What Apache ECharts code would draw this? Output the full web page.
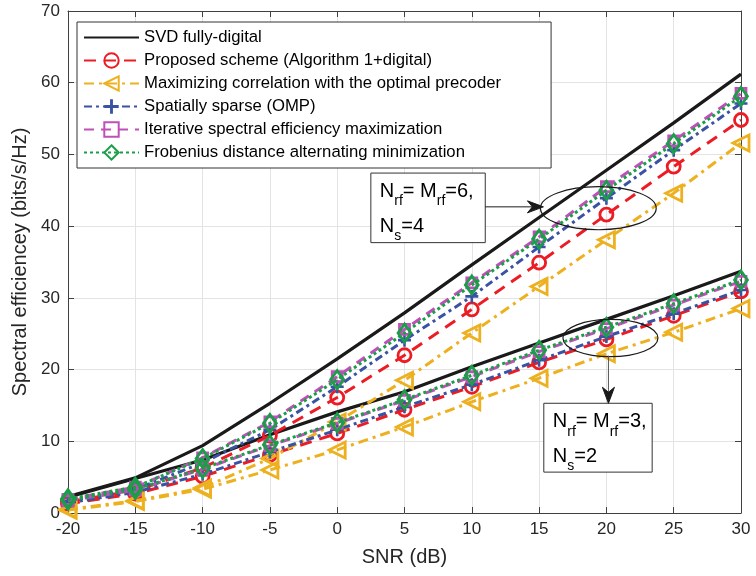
<!DOCTYPE html>
<html><head><meta charset="utf-8">
<script src="https://cdn.jsdelivr.net/npm/echarts@6/dist/echarts.min.js"></script>
<style>html,body{margin:0;padding:0;background:#fff}#c{width:756px;height:576px}</style>
</head><body><div id="c"></div>
<script>
// ---- data ----
const snr = [-20, -15, -10, -5, 0, 5, 10, 15, 20, 25, 30];
const legendNames = [
  'SVD fully-digital',
  'Proposed scheme (Algorithm 1+digital)',
  'Maximizing correlation with the optimal precoder',
  'Spatially sparse (OMP)',
  'Iterative spectral efficiency maximization',
  'Frobenius distance alternating minimization'
];
// Nrf = Mrf = 6, Ns = 4
const svd6   = [2.3, 4.9, 9.4, 15.3, 21.5, 27.9, 34.6, 41.2, 47.8, 54.4, 61.2];
const prop6  = [1.6, 3.1, 6.3, 10.8, 16.1, 22.0, 28.4, 34.9, 41.6, 48.3, 54.8];
const corr6  = [0.5, 1.7, 3.5, 7.6, 12.7, 18.5, 25.1, 31.6, 38.1, 44.6, 51.6];
const omp6   = [1.7, 3.3, 7.0, 11.6, 17.6, 24.1, 30.2, 37.1, 43.9, 50.6, 57.1];
const iter6  = [1.9, 3.6, 7.7, 12.7, 19.0, 25.6, 32.1, 38.5, 45.5, 51.9, 58.5];
const frob6  = [2.0, 3.6, 7.6, 12.5, 18.6, 25.1, 31.8, 38.2, 45.0, 51.5, 58.1];
// Nrf = Mrf = 3, Ns = 2
const svd3   = [2.2, 4.8, 7.4, 10.9, 14.1, 16.9, 20.4, 23.7, 27.0, 30.3, 33.7];
const prop3  = [1.3, 2.7, 5.1, 8.1, 11.1, 14.4, 17.6, 21.0, 24.2, 27.5, 30.9];
const corr3  = [0.4, 1.6, 3.3, 6.0, 8.8, 12.0, 15.5, 18.8, 22.2, 25.2, 28.5];
const omp3   = [1.4, 2.9, 5.4, 8.5, 11.6, 14.8, 17.9, 21.3, 24.6, 27.8, 31.1];
const iter3  = [1.7, 3.2, 6.1, 9.4, 12.5, 15.7, 19.0, 22.5, 25.7, 29.0, 32.3];
const frob3  = [1.8, 3.3, 6.2, 9.5, 12.6, 15.8, 19.2, 22.7, 25.9, 29.2, 32.5];

// ---- styles ----
const plusPath = 'path://M4,0H6V4H10V6H6V10H4V6H0V4H4Z';
const styles = [
  {color:'#1a1a1a', dash:'solid', width:3.2, symbol:'none'},
  {color:'#ec1c24', dash:[12,8], width:3, symbol:'circle', size:13, hollow:true},
  {color:'#edb120', dash:[10,5,3,5], width:3, symbol:'triangle', size:16, rotate:90, hollow:true},
  {color:'#3a52a3', dash:[8,4,3,4], width:3, symbol:plusPath, size:13, hollow:false},
  {color:'#bf50b8', dash:[10,7], width:3, symbol:'rect', size:10, hollow:true},
  {color:'#1a9e48', dash:[3,3], width:3, symbol:'diamond', size:[13,18], hollow:true}
];
const groups = [
  [svd6, prop6, corr6, omp6, iter6, frob6],
  [svd3, prop3, corr3, omp3, iter3, frob3]
];

const series = [];
groups.forEach(g => {
  g.forEach((arr, k) => {
    const st = styles[k];
    series.push({
      type: 'line',
      name: legendNames[k],
      data: snr.map((x, i) => [x, arr[i]]),
      symbol: st.symbol,
      symbolSize: st.size || 0,
      symbolRotate: st.rotate || 0,
      showSymbol: st.symbol !== 'none',
      lineStyle: {color: st.color, width: st.width, type: st.dash},
      itemStyle: st.hollow
        ? {color: 'rgba(255,255,255,0)', borderColor: st.color, borderWidth: 2.8}
        : {color: st.color, borderWidth: 0},
      emphasis: {disabled: true},
      z: 3 + k
    });
  });
});

const axisColor = '#404040';
const labelColor = '#262626';
const font = 'Liberation Sans, Arial, sans-serif';
function xAx(pos, main) {
  return {
    type: 'value', min: -20, max: 30, interval: 5, position: pos,
    axisLine: {show: true, onZero: false, lineStyle: {color: axisColor, width: 1}},
    axisTick: {show: true, inside: true, length: 6, lineStyle: {color: axisColor}},
    axisLabel: {show: main, color: labelColor, fontSize: 17, fontFamily: font, margin: 8},
    splitLine: {show: main, lineStyle: {color: '#e3e3e3', width: 1}},
    name: main ? 'SNR (dB)' : '', nameLocation: 'middle', nameGap: 34,
    nameTextStyle: {color: labelColor, fontSize: 20, fontFamily: font}
  };
}
function yAx(pos, main) {
  return {
    type: 'value', min: 0, max: 70, interval: 10, position: pos,
    axisLine: {show: true, onZero: false, lineStyle: {color: axisColor, width: 1}},
    axisTick: {show: true, inside: true, length: 6, lineStyle: {color: axisColor}},
    axisLabel: {show: main, color: labelColor, fontSize: 17, fontFamily: font, margin: 8},
    splitLine: {show: main, lineStyle: {color: '#e3e3e3', width: 1}},
    name: main ? 'Spectral efficiencey (bits/s/Hz)' : '', nameLocation: 'middle', nameGap: 31,
    nameTextStyle: {color: labelColor, fontSize: 20, fontFamily: font}
  };
}

const legendData = legendNames.map((n, k) => k === 0 ? {name: n, itemStyle: {opacity: 0}} : n);

const chart = echarts.init(document.getElementById('c'), null, {renderer: 'canvas'});
chart.setOption({
  animation: false,
  backgroundColor: '#fff',
  grid: {left: 68, right: 15, top: 11, bottom: 63, containLabel: false},
  xAxis: [xAx('bottom', true), xAx('top', false)],
  yAxis: [yAx('left', true), yAx('right', false)],
  legend: {
    data: legendData,
    orient: 'vertical', left: 77, top: 22,
    itemWidth: 55, itemHeight: 18, itemGap: 0,
    padding: [4, 50, 4, 6],
    backgroundColor: '#fff', borderColor: '#333', borderWidth: 1,
    textStyle: {color: '#000', fontSize: 16.7, fontFamily: font, lineHeight: 23},
    selectedMode: false
  },
  series: series
});

// ---- annotations (anchored in data coordinates) ----
const ann = {
  upEllipse: {c: [19.4, 42.5], rx: 4.3, ry: 3.0},
  loEllipse: {c: [20.3, 24.4], rx: 3.53, ry: 2.6},
  upBox: {tl: [2.5, 47.4], br: [11.0, 37.7]},
  loBox: {tl: [15.35, 15.3], br: [23.4, 5.7]}
};
const P = v => chart.convertToPixel({xAxisIndex: 0, yAxisIndex: 0}, v);
const ue = P(ann.upEllipse.c), le = P(ann.loEllipse.c);
const ueR = P([ann.upEllipse.c[0] + ann.upEllipse.rx, ann.upEllipse.c[1] - ann.upEllipse.ry]);
const leR = P([ann.loEllipse.c[0] + ann.loEllipse.rx, ann.loEllipse.c[1] - ann.loEllipse.ry]);
const uerx = ueR[0] - ue[0], uery = ueR[1] - ue[1];
const lerx = leR[0] - le[0], lery = leR[1] - le[1];
const ub1 = P(ann.upBox.tl), ub2 = P(ann.upBox.br);
const lb1 = P(ann.loBox.tl), lb2 = P(ann.loBox.br);

const rich = {
  n: {fontSize: 20, lineHeight: 20, verticalAlign: 'top', fontFamily: font, fill: '#000'},
  s: {fontSize: 14, lineHeight: 27, verticalAlign: 'bottom', fontFamily: font, fill: '#000'}
};
function txt(x, y, t) {
  return {type: 'text', x: x, y: y, z: 100, style: {text: t, rich: rich, fill: '#000', verticalAlign: 'top', align: 'left'}};
}
function arrowHead(tx, ty, dir) { // dir: 'right' or 'down'
  const L = 16, W = 6, N = 11;
  let pts;
  if (dir === 'right') pts = [[tx, ty], [tx - L, ty - W], [tx - N, ty], [tx - L, ty + W]];
  else pts = [[tx, ty], [tx - W, ty - L], [tx, ty - N], [tx + W, ty - L]];
  return {type: 'polygon', z: 100, shape: {points: pts}, style: {fill: '#1a1a1a', stroke: '#1a1a1a', lineWidth: 1}};
}
const upArrowY = (ub1[1] + ub2[1]) / 2 - 1;
const upTipX = ue[0] - uerx + 3;
const loX = le[0] - 2;
const loStartY = le[1] + lery - 1;
const loTipY = lb1[1];

chart.setOption({
  graphic: [
    {type: 'ellipse', z: 100, shape: {cx: ue[0], cy: ue[1], rx: uerx, ry: uery}, style: {fill: 'none', stroke: '#1a1a1a', lineWidth: 1.2}},
    {type: 'ellipse', z: 100, shape: {cx: le[0], cy: le[1], rx: lerx, ry: lery}, style: {fill: 'none', stroke: '#1a1a1a', lineWidth: 1.2}},
    {type: 'rect', z: 99, shape: {x: ub1[0], y: ub1[1], width: ub2[0] - ub1[0], height: ub2[1] - ub1[1]}, style: {fill: '#fff', stroke: '#333', lineWidth: 1}},
    {type: 'rect', z: 99, shape: {x: lb1[0], y: lb1[1], width: lb2[0] - lb1[0], height: lb2[1] - lb1[1]}, style: {fill: '#fff', stroke: '#333', lineWidth: 1}},
    txt(ub1[0] + 9, ub1[1] + 8.5, '{n|N}{s|rf}{n|= M}{s|rf}{n|=6,}'),
    txt(ub1[0] + 9, ub1[1] + 43, '{n|N}{s|s}{n|=4}'),
    txt(lb1[0] + 9, lb1[1] + 8.5, '{n|N}{s|rf}{n|= M}{s|rf}{n|=3,}'),
    txt(lb1[0] + 9, lb1[1] + 43, '{n|N}{s|s}{n|=2}'),
    {type: 'line', z: 100, shape: {x1: ub2[0], y1: upArrowY, x2: upTipX - 8, y2: upArrowY}, style: {stroke: '#1a1a1a', lineWidth: 1}},
    arrowHead(upTipX, upArrowY, 'right'),
    {type: 'line', z: 100, shape: {x1: loX, y1: loStartY, x2: loX, y2: loTipY - 8}, style: {stroke: '#555', lineWidth: 1}},
    arrowHead(loX, loTipY, 'down')
  ]
});
</script>
</body></html>
